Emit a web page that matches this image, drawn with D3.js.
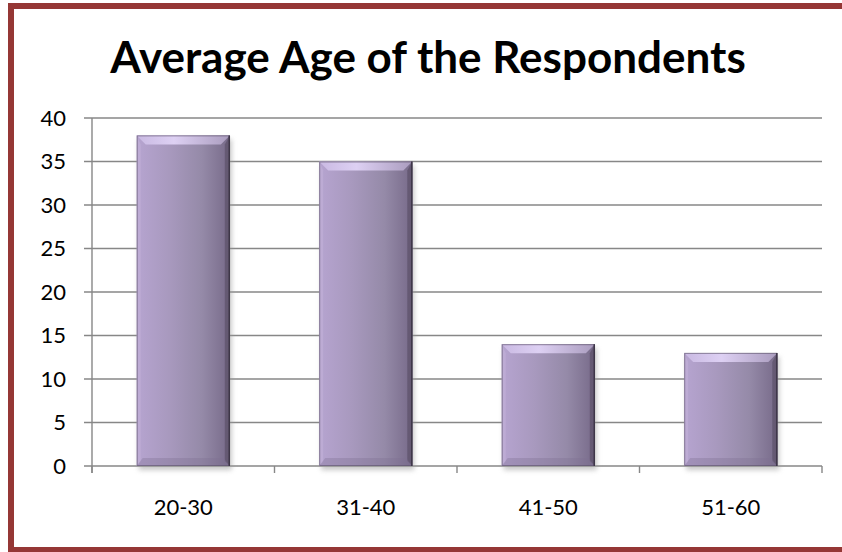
<!DOCTYPE html>
<html>
<head>
<meta charset="utf-8">
<script src="https://cdn.jsdelivr.net/npm/d3@7"></script>
<style>
  html, body { margin: 0; padding: 0; background: #ffffff; }
  svg { display: block; }
</style>
</head>
<body>
<svg id="chart" width="842" height="552"></svg>
<script>
// Chart data
const title = "Average Age of the Respondents";
const categories = ["20-30", "31-40", "41-50", "51-60"];
const values = [38, 35, 14, 13];
const yTicks = [0, 5, 10, 15, 20, 25, 30, 35, 40];

const W = 842, H = 552;
const margin = { left: 92, right: 20, top: 118, bottom: 86 };
const font = "Lato, 'Open Sans', sans-serif";

const svg = d3.select("#chart");
const defs = svg.append("defs");

// Face gradient: light lavender on the left, fading darker to the right
const face = defs.append("linearGradient").attr("id", "face")
  .attr("x1", "0").attr("x2", "1").attr("y1", "0").attr("y2", "0");
[["0%", "#b6a4d0"], ["35%", "#a899be"], ["70%", "#958aa8"], ["100%", "#776a89"]]
  .forEach(([o, c]) => face.append("stop").attr("offset", o).attr("stop-color", c));

const topBevel = defs.append("linearGradient").attr("id", "topBevel")
  .attr("x1", "0").attr("x2", "1").attr("y1", "0").attr("y2", "0");
[["0%", "#c9b9e2"], ["40%", "#ddd0f3"], ["100%", "#aa9cbe"]]
  .forEach(([o, c]) => topBevel.append("stop").attr("offset", o).attr("stop-color", c));

const shadow = defs.append("filter").attr("id", "shadow")
  .attr("x", "-20%").attr("y", "-20%").attr("width", "140%").attr("height", "140%");
shadow.append("feGaussianBlur").attr("stdDeviation", 2.5);

// Outer frame
svg.append("rect")
  .attr("x", 11).attr("y", 6).attr("width", 860).attr("height", 544)
  .attr("fill", "none").attr("stroke", "#953735").attr("stroke-width", 6);

// Title
svg.append("text")
  .attr("x", 428).attr("y", 73)
  .attr("text-anchor", "middle")
  .attr("font-family", font).attr("font-weight", 700)
  .attr("font-size", 44).attr("fill", "#000")
  .text(title);

const x = d3.scaleBand().domain(categories)
  .range([margin.left, W - margin.right]).paddingInner(0.49).paddingOuter(0.245);
const y = d3.scaleLinear().domain([0, 40]).range([H - margin.bottom, margin.top]);

const x0 = margin.left, x1 = W - margin.right;

// Gridlines
svg.append("g").selectAll("line").data(yTicks).join("line")
  .attr("x1", x0 - 8).attr("x2", x1)
  .attr("y1", d => y(d)).attr("y2", d => y(d))
  .attr("stroke", "#878787").attr("stroke-width", 1.4);

// Y axis line
svg.append("line").attr("x1", x0).attr("x2", x0)
  .attr("y1", y(40)).attr("y2", y(0) + 7)
  .attr("stroke", "#878787").attr("stroke-width", 1.4);

// Category boundary ticks on the x axis
const bounds = d3.range(categories.length + 1).map(i => x0 + i * (x1 - x0) / categories.length);
svg.append("g").selectAll("line").data(bounds).join("line")
  .attr("x1", d => d).attr("x2", d => d)
  .attr("y1", y(0)).attr("y2", y(0) + 7)
  .attr("stroke", "#878787").attr("stroke-width", 1.4);

// Y tick labels
svg.append("g").selectAll("text").data(yTicks).join("text")
  .attr("x", 66).attr("y", d => y(d)).attr("dy", "0.36em")
  .attr("text-anchor", "end")
  .attr("font-family", font).attr("font-size", 22).attr("fill", "#000")
  .text(d => d);

// X category labels
svg.append("g").selectAll("text").data(categories).join("text")
  .attr("x", d => x(d) + x.bandwidth() / 2).attr("y", 515)
  .attr("text-anchor", "middle")
  .attr("font-family", font).attr("font-size", 22).attr("fill", "#000")
  .text(d => d);

// Bevelled bars
const b = 9;
const bars = svg.append("g").selectAll("g").data(categories.map((c, i) => ({ c, v: values[i] })))
  .join("g");

bars.each(function(d) {
  const g = d3.select(this);
  const L = x(d.c), R = L + x.bandwidth(), T = y(d.v), B = y(0);
  // soft shadow below
  g.append("rect").attr("x", L + 2).attr("y", T + 4).attr("width", R - L).attr("height", B - T)
    .attr("fill", "#9a9a9a").attr("opacity", 0.55).attr("filter", "url(#shadow)");
  g.append("rect").attr("x", L).attr("y", T).attr("width", R - L).attr("height", B - T)
    .attr("fill", "url(#face)");
  const poly = (pts, fill, op) => g.append("polygon")
    .attr("points", pts.map(p => p.join(",")).join(" ")).attr("fill", fill).attr("opacity", op);
  poly([[L, T], [R, T], [R - b, T + b], [L + b, T + b]], "url(#topBevel)", 1);
  poly([[L, T], [L + 4, T + b], [L + 4, B - 4], [L, B]], "#c2b2d9", 0.55);
  poly([[R, T], [R, B], [R - 5, B - 5], [R - 5, T + b]], "#54495f", 0.55);
  poly([[L, B], [R, B], [R - 6, B - 8], [L + 6, B - 8]], "#7e6f92", 0.35);
  g.append("rect").attr("x", L + 0.5).attr("y", T + 0.5).attr("width", R - L - 1).attr("height", B - T - 1)
    .attr("fill", "none").attr("stroke", "#5b5169").attr("stroke-width", 1).attr("opacity", 0.6);
  g.append("line").attr("x1", R - 0.5).attr("x2", R - 0.5).attr("y1", T).attr("y2", B)
    .attr("stroke", "#3e3648").attr("stroke-width", 1.5);
});
</script>
</body>
</html>
